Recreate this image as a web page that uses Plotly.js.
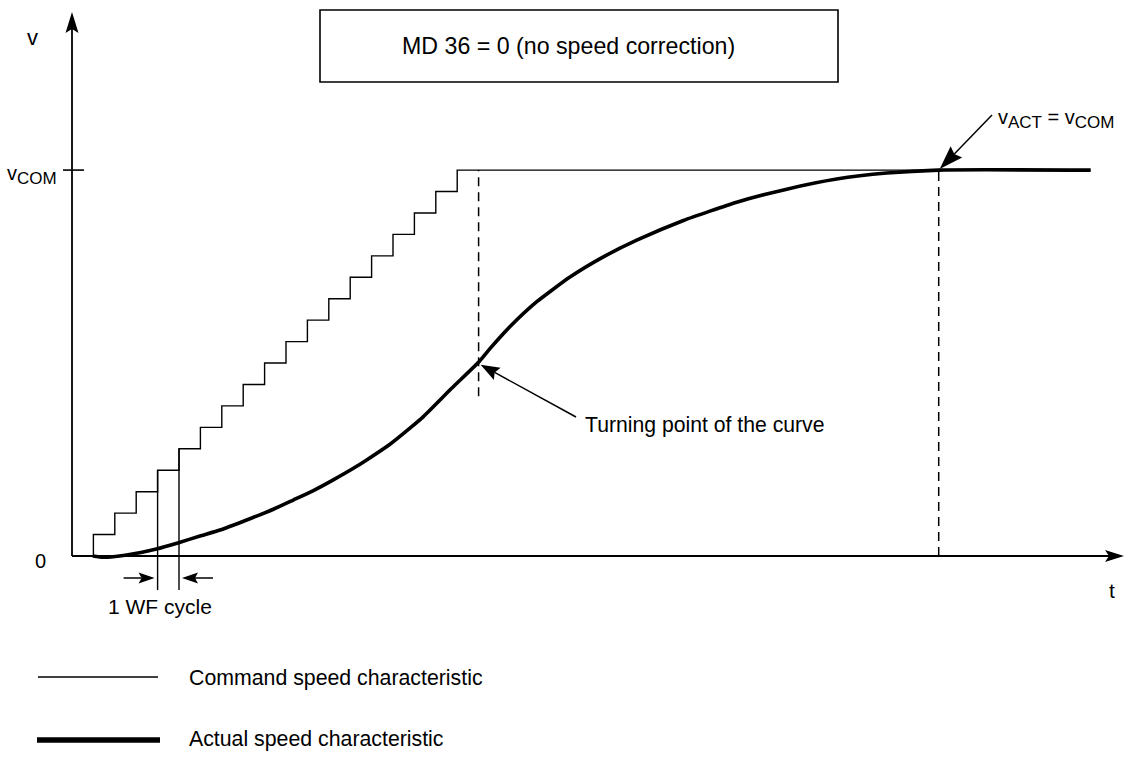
<!DOCTYPE html>
<html>
<head>
<meta charset="utf-8">
<script src="https://cdn.plot.ly/plotly-3.0.1.min.js"></script>
<style>
html,body{margin:0;padding:0;background:#fff;}
#chart{width:1126px;height:757px;}
</style>
</head>
<body>
<div id="chart"></div>
<script>
// ---------------- data (time in WF cycles, speed in command increments) ----------------
const stepTimes  = [1,2,3,4,5,6,7,8,9,10,11,12,13,14,15,16,17,18];
const stepLevels = [1,2,3,4,5,6,7,8,9,10,11,12,13,14,15,16,17,18];
const vCom = 18;
const holdEnd = 47.6;

const actualT = [0.97,1.46,2.56,3.99,4.98,5.98,6.92,8.16,9.41,10.34,11.28,12.21,13.15,13.77,14.86,15.79,16.42,17.74,19.02,
                 19.53,20.47,21.72,23.27,24.83,26.39,28.57,31.06,33.40,35.73,38.07,40.48,47.6];
const actualV = [0.00,-0.06,0.05,0.34,0.62,0.93,1.21,1.68,2.18,2.61,3.05,3.55,4.09,4.48,5.21,5.96,6.50,7.82,9.06,
                 9.67,10.70,11.86,13.01,13.95,14.73,15.65,16.50,17.11,17.58,17.86,18.00,18.00];

const turnT = 19.0, turnV = 9.06, turnDashLow = 7.45;
const matchT = 40.5;
const cycleMarks = [4, 5];
const cycleLineLow = -1.59;

const SUB = s => '<sub><span style="font-size:17px">' + s + '</span></sub>';
const texts = {
  box: 'MD 36 = 0 (no speed correction)',
  vAxis: 'v',
  tAxis: 't',
  zero: '0',
  vComLabel: 'v' + SUB('COM'),
  match: 'v' + SUB('ACT') + ' = v' + SUB('COM'),
  turn: 'Turning point of the curve',
  cycle: '1 WF cycle',
  legCmd: 'Command speed characteristic',
  legAct: 'Actual speed characteristic'
};

// ---------------- geometry helpers ----------------
const W = 1126, H = 757, OX = 72, OY = 556, SX = 21.4, SY = 21.44;
const toPx = t => OX + SX * t;
const toPy = v => OY - SY * v;
const dx = px => (px - OX) / SX;
const dy = py => (OY - py) / SY;
const PX = px => px / W;
const PY = py => 1 - py / H;
const FONT = 'Liberation Sans, Arial, Helvetica, sans-serif';
const INK = '#000';

function headPath(tx, ty, fx, fy, len, wid, notch) {
  const d = Math.hypot(tx - fx, ty - fy);
  const ux = (tx - fx) / d, uy = (ty - fy) / d;
  const nx = -uy, ny = ux;
  const bx = tx - ux * len, by = ty - uy * len;
  const p1 = [bx + nx * wid / 2, by + ny * wid / 2];
  const p2 = [bx - nx * wid / 2, by - ny * wid / 2];
  const nb = [tx - ux * (len - notch), ty - uy * (len - notch)];
  const f = p => PX(p[0]).toFixed(5) + ',' + PY(p[1]).toFixed(5);
  return 'M' + f([tx, ty]) + 'L' + f(p1) + 'L' + f(nb) + 'L' + f(p2) + 'Z';
}
function arrow(fx, fy, tx, ty, len, wid, notch, lw) {
  const d = Math.hypot(tx - fx, ty - fy);
  const ux = (tx - fx) / d, uy = (ty - fy) / d;
  const ex = tx - ux * (len - notch), ey = ty - uy * (len - notch);
  return [
    {type: 'line', xref: 'paper', yref: 'paper', x0: PX(fx), y0: PY(fy), x1: PX(ex), y1: PY(ey),
     line: {color: INK, width: lw}},
    {type: 'path', xref: 'paper', yref: 'paper', path: headPath(tx, ty, fx, fy, len, wid, notch),
     fillcolor: INK, line: {width: 0}}
  ];
}

// ---------------- traces ----------------
const cmdX = [stepTimes[0]].concat(stepTimes, [holdEnd]);
const cmdY = [0].concat(stepLevels, [vCom]);

const traces = [
  {x: cmdX, y: cmdY, mode: 'lines', line: {shape: 'hv', color: INK, width: 1.4}, hoverinfo: 'skip', showlegend: false},
  {x: cycleMarks.map(t => [t, t, null]).flat(),
   y: cycleMarks.map(t => [cycleLineLow, stepLevels[stepTimes.indexOf(t)], null]).flat(),
   mode: 'lines', line: {color: INK, width: 1.4}, hoverinfo: 'skip', showlegend: false},
  {x: [turnT, turnT], y: [turnDashLow, vCom], mode: 'lines', line: {color: INK, width: 1.5, dash: '9px,6px'}, hoverinfo: 'skip', showlegend: false},
  {x: [matchT, matchT], y: [0, vCom], mode: 'lines', line: {color: INK, width: 1.5, dash: '9px,6px'}, hoverinfo: 'skip', showlegend: false},
  {x: actualT, y: actualV, mode: 'lines', line: {shape: 'spline', smoothing: 0.5, color: INK, width: 3.6}, hoverinfo: 'skip', showlegend: false}
];

// ---------------- shapes ----------------
let shapes = [];
shapes.push({type: 'rect', xref: 'paper', yref: 'paper', x0: PX(320), x1: PX(838), y0: PY(10), y1: PY(82),
             line: {color: INK, width: 1.6}, fillcolor: 'rgba(0,0,0,0)'});
shapes = shapes.concat(arrow(OX, OY, OX, 12, 21, 13, 4, 1.8));
shapes = shapes.concat(arrow(OX, OY, 1124, OY, 19, 12, 4, 1.8));
shapes.push({type: 'line', xref: 'paper', yref: 'y', x0: PX(63), x1: PX(84), y0: vCom, y1: vCom, line: {color: INK, width: 1.6}});
const cx0 = toPx(cycleMarks[0]), cx1 = toPx(cycleMarks[1]);
shapes = shapes.concat(arrow(cx0 - 34, 578, cx0 - 3, 578, 16, 11, 3, 1.5));
shapes = shapes.concat(arrow(cx1 + 34, 578, cx1 + 3, 578, 16, 11, 3, 1.5));
shapes = shapes.concat(arrow(576, 417, toPx(turnT) + 2, toPy(turnV) + 3, 19, 14, 3, 1.5));
shapes = shapes.concat(arrow(992, 115, toPx(matchT) + 1, toPy(vCom) - 1, 24, 16, 3, 1.5));
shapes.push({type: 'line', xref: 'paper', yref: 'paper', x0: PX(38), x1: PX(158), y0: PY(677), y1: PY(677), line: {color: INK, width: 1.5}});
shapes.push({type: 'line', xref: 'paper', yref: 'paper', x0: PX(37), x1: PX(160), y0: PY(740), y1: PY(740), line: {color: INK, width: 5.5}});

// ---------------- annotations ----------------
function txt(text, px, py, size, xanchor) {
  return {text: text, xref: 'paper', yref: 'paper', x: PX(px), y: PY(py), xanchor: xanchor || 'center', yanchor: 'middle',
          showarrow: false, font: {family: FONT, size: size, color: INK}};
}
const annotations = [
  txt(texts.box, 568.5, 46, 23.2),
  txt(texts.vAxis, 32, 38, 22),
  txt(texts.vComLabel, 59, 175, 20, 'right'),
  txt(texts.zero, 40, 561, 20),
  txt(texts.tAxis, 1112, 590, 21),
  txt(texts.cycle, 160, 606, 21),
  txt(texts.turn, 583, 425, 21.2, 'left'),
  txt(texts.match, 996, 119, 20, 'left'),
  txt(texts.legCmd, 187, 678, 21.3, 'left'),
  txt(texts.legAct, 187, 739, 21.3, 'left')
];

const layout = {
  width: W, height: H,
  margin: {l: 0, r: 0, t: 0, b: 0, pad: 0},
  paper_bgcolor: '#fff', plot_bgcolor: '#fff',
  xaxis: {range: [dx(0), dx(W)], visible: false, fixedrange: true},
  yaxis: {range: [dy(H), dy(0)], visible: false, fixedrange: true},
  shapes: shapes,
  annotations: annotations,
  showlegend: false,
  font: {family: FONT, color: INK}
};

Plotly.newPlot('chart', traces, layout, {displayModeBar: false, staticPlot: true});
</script>
</body>
</html>
